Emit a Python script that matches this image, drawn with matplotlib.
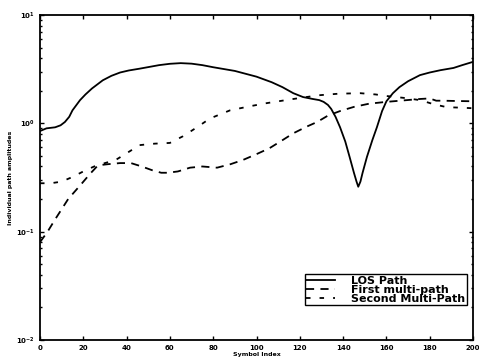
import matplotlib

matplotlib.use("Agg")

import matplotlib.pyplot as plt
from matplotlib.ticker import LogLocator, NullFormatter

# LOS path amplitude
los_x = [0, 3, 7, 9.5, 11.5, 13.5, 15, 18.5, 21, 24, 29, 33, 37, 41, 46, 55, 60, 65, 70,
         75, 80, 90, 100, 107, 112, 117, 121.5, 126, 129, 131, 133, 134.5, 136.5, 138.6,
         141, 143, 145, 146.2, 147, 148, 149, 151, 153.5, 155.6, 158, 160, 163, 166, 170,
         175.5, 180, 185, 191, 195, 200]
los_y = [0.85, 0.9, 0.92, 0.96, 1.03, 1.15, 1.32, 1.64, 1.85, 2.1, 2.5, 2.75, 2.95, 3.08,
         3.2, 3.45, 3.55, 3.6, 3.56, 3.45, 3.3, 3.05, 2.7, 2.4, 2.16, 1.9, 1.75, 1.68,
         1.64, 1.58, 1.48, 1.36, 1.15, 0.92, 0.68, 0.49, 0.35, 0.29, 0.26, 0.29, 0.35,
         0.49, 0.7, 0.92, 1.3, 1.6, 1.9, 2.16, 2.45, 2.79, 2.95, 3.1, 3.25, 3.45, 3.7]

# first multi-path
first_x = [0, 3.5, 7, 13, 19.4, 23, 26.8, 31.4, 37, 42, 47, 51.7, 56, 59, 63.7, 69.3,
           75, 81.8, 88, 93.8, 100, 106, 112, 117, 123, 128, 133, 138.6, 145, 152, 160,
           169.5, 175.5, 180, 183, 186, 192, 200]
first_y = [0.08, 0.1, 0.13, 0.2, 0.28, 0.34, 0.41, 0.42, 0.43, 0.43, 0.4, 0.37, 0.35,
           0.35, 0.36, 0.39, 0.4, 0.39, 0.42, 0.46, 0.52, 0.59, 0.7, 0.81, 0.93, 1.03,
           1.18, 1.3, 1.42, 1.52, 1.58, 1.64, 1.68, 1.7, 1.62, 1.62, 1.61, 1.6]

# second multi-path
second_x = [0, 5, 10, 15, 20, 25, 30, 35, 40, 46, 53, 60, 66, 72.5, 78.5, 87.8, 97,
            104, 111, 117, 123, 129, 138, 148, 155, 160, 168, 175.5, 182, 188, 193, 200]
second_y = [0.28, 0.28, 0.29, 0.32, 0.36, 0.4, 0.43, 0.46, 0.53, 0.63, 0.65, 0.66, 0.76,
            0.92, 1.11, 1.32, 1.44, 1.53, 1.61, 1.68, 1.75, 1.82, 1.88, 1.9, 1.85, 1.79,
            1.72, 1.64, 1.5, 1.41, 1.4, 1.38]

x_ticks = list(range(0, 201, 20))

fig = plt.figure(figsize=(4.79, 3.6), dpi=100)
axis = fig.add_axes([0.0835, 0.0556, 0.904, 0.9025])

axis.plot(los_x, los_y, color="black", linewidth=1.3, label="LOS Path")
axis.plot(first_x, first_y, color="black", linewidth=1.3, dashes=(4.5, 3.5),
          label="First multi-path")
axis.plot(second_x, second_y, color="black", linewidth=1.3, dashes=(2.5, 5),
          label="Second Multi-Path")

axis.set_yscale("log")
axis.set_xlim(0, 200)
axis.set_ylim(1e-2, 1e1)
axis.set_xticks(x_ticks)
axis.yaxis.set_minor_locator(LogLocator(base=10, subs=(2, 3, 4, 5, 6, 7, 8, 9)))
axis.yaxis.set_minor_formatter(NullFormatter())
axis.tick_params(which="both", direction="in", top=True, right=True, labelsize=5,
                 width=1.0)
axis.tick_params(which="major", length=3)
axis.tick_params(which="minor", length=1.5)
for label in axis.get_xticklabels() + axis.get_yticklabels():
    label.set_fontweight("bold")
for spine in axis.spines.values():
    spine.set_linewidth(1.3)

axis.set_xlabel("Symbol Index", fontsize=4.5, fontweight="bold", labelpad=1)
axis.set_ylabel("Individual path amplitudes", fontsize=4.5, fontweight="bold", labelpad=2)

legend = axis.legend(loc="lower right", bbox_to_anchor=(0.986, 0.108),
                     prop={"size": 8, "weight": "bold"},
                     frameon=True, fancybox=False, edgecolor="black", framealpha=1,
                     handlelength=2.6, borderpad=0.12, labelspacing=-0.1,
                     handletextpad=1.5, borderaxespad=0)
legend.get_frame().set_linewidth(1.0)

fig.savefig("out.png", dpi=100)
plt.close(fig)
